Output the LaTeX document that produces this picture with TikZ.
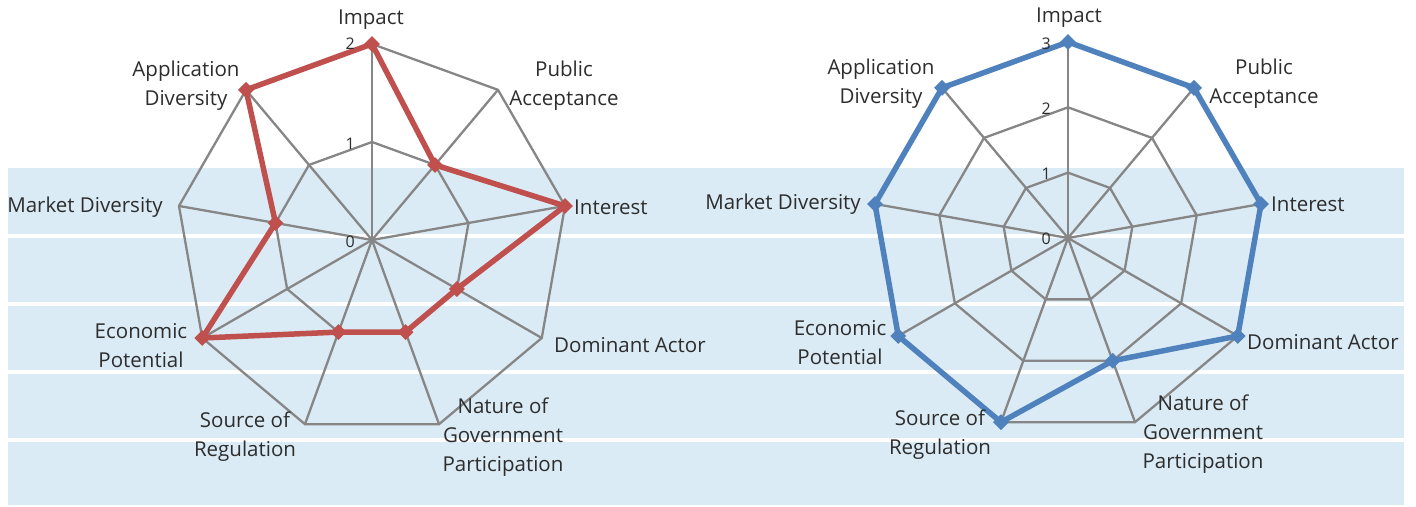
\documentclass[tikz,border=0pt]{standalone}
\usepackage{fontspec}
\setmainfont{Open Sans}
\usetikzlibrary{shapes.geometric,calc}
\definecolor{bandblue}{RGB}{218,235,245}
\definecolor{gridgray}{RGB}{134,134,134}
\definecolor{serred}{RGB}{192,80,77}
\definecolor{serblue}{RGB}{79,129,189}
\definecolor{txt}{RGB}{45,45,45}
\tikzset{
  lbl/.style={text=txt, font=\fontsize{20.5}{29}\selectfont, inner sep=0pt, align=center},
  tick/.style={text=txt, font=\fontsize{16}{18}\selectfont, inner sep=0pt, anchor=east},
  gridline/.style={draw=gridgray, line width=2.3pt},
  redser/.style={draw=serred, line width=5.5pt, line join=miter},
  blueser/.style={draw=serblue, line width=5.5pt, line join=miter},
  redmark/.style={diamond, fill=serred, minimum size=16pt, inner sep=0pt},
  bluemark/.style={diamond, fill=serblue, minimum size=16pt, inner sep=0pt},
}
\begin{document}
\begin{tikzpicture}[x=1pt,y=1pt]
\useasboundingbox (0,0) rectangle (1416,506);
% background bands
\fill[bandblue] (8,1) rectangle (1404,338);
\foreach \yy in {236,304,372,440}{
  \fill[white] (8,506-\yy-2) rectangle (1404,506-\yy+2);
}
% ---------- left chart ----------
\coordinate (LC) at (372,266);
\foreach \lev in {1,2}{
  \draw[gridline] ($(LC)+(90:\lev*98)$) \foreach \i in {1,...,8}{ -- ($(LC)+(90-40*\i:\lev*98)$)} -- cycle;
}
\foreach \i in {0,...,8}{
  \draw[gridline] (LC) -- ($(LC)+(90-40*\i:196)$);
}
% data left: 2,1,2,1,1,1,2,1,2
\foreach \v [count=\i from 0] in {2,1,2,1,1,1,2,1,2}{
  \coordinate (Lp\i) at ($(LC)+(90-40*\i:\v*98)$);
}
\draw[redser] (Lp0) -- (Lp1) -- (Lp2) -- (Lp3) -- (Lp4) -- (Lp5) -- (Lp6) -- (Lp7) -- (Lp8) -- cycle;
\foreach \i in {0,...,8}{ \node[redmark] (Lm\i) at (Lp\i) {}; }
\node[tick] (Lt0) at (355,264) {0};
\node[tick] (Lt1) at (355,362) {1};
\node[tick] (Lt2) at (355,462) {2};
% labels left
\node[lbl] (La) at (371,486) {Impact};
\node[lbl] (Lb) at (564,420) {Public\\Acceptance};
\node[lbl, anchor=west] (Lc) at (574,299) {Interest};
\node[lbl, anchor=west] (Ld) at (554,161) {Dominant Actor};
\node[lbl] (Le) at (503,69) {Nature of\\Government\\Participation};
\node[lbl] (Lf) at (245,69) {Source of\\Regulation};
\node[lbl] (Lg) at (141,160) {Economic\\Potential};
\node[lbl, anchor=east] (Lh) at (163,299) {Market Diversity};
\node[lbl] (Li) at (186,420) {Application\\Diversity};
% ---------- right chart ----------
\coordinate (RC) at (1068,268);
\foreach \lev in {1,2,3}{
  \draw[gridline] ($(RC)+(90:\lev*65.33)$) \foreach \i in {1,...,8}{ -- ($(RC)+(90-40*\i:\lev*65.33)$)} -- cycle;
}
\foreach \i in {0,...,8}{
  \draw[gridline] (RC) -- ($(RC)+(90-40*\i:196)$);
}
\foreach \v [count=\i from 0] in {3,3,3,3,2,3,3,3,3}{
  \coordinate (Rp\i) at ($(RC)+(90-40*\i:\v*65.33)$);
}
\draw[blueser] (Rp0) -- (Rp1) -- (Rp2) -- (Rp3) -- (Rp4) -- (Rp5) -- (Rp6) -- (Rp7) -- (Rp8) -- cycle;
\foreach \i in {0,...,8}{ \node[bluemark] (Rm\i) at (Rp\i) {}; }
\node[tick] (Rt0) at (1051,267) {0};
\node[tick] (Rt1) at (1051,332) {1};
\node[tick] (Rt2) at (1051,397) {2};
\node[tick] (Rt3) at (1051,462) {3};
% labels right
\node[lbl] (Ra) at (1069,488) {Impact};
\node[lbl] (Rb) at (1264,422) {Public\\Acceptance};
\node[lbl, anchor=west] (Rc) at (1271,302) {Interest};
\node[lbl, anchor=west] (Rd) at (1247,164) {Dominant Actor};
\node[lbl] (Re) at (1203,72) {Nature of\\Government\\Participation};
\node[lbl] (Rf) at (940,71) {Source of\\Regulation};
\node[lbl] (Rg) at (840,163) {Economic\\Potential};
\node[lbl, anchor=east] (Rh) at (861,302) {Market Diversity};
\node[lbl] (Ri) at (881,422) {Application\\Diversity};
\end{tikzpicture}
\end{document}
